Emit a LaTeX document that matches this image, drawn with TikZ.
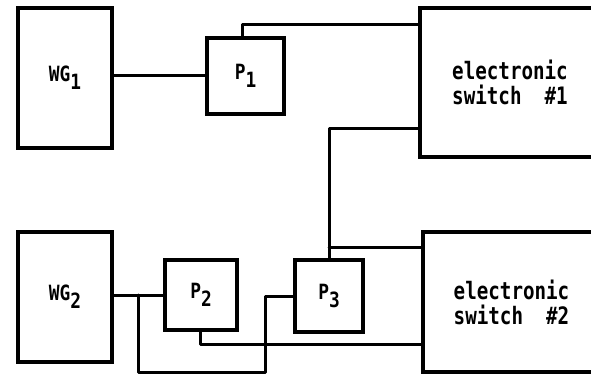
\documentclass[tikz,border=0pt]{standalone}
\usepackage{fontspec}
\newfontfamily\swfont{DejaVu Sans Mono}[FakeStretch=0.8]
\newfontfamily\tagfont{DejaVu Sans Mono}[FakeStretch=0.85]
\usetikzlibrary{positioning, calc}
\newcommand{\lowsub}[1]{\raisebox{-8pt}{#1}}

\begin{document}
\begin{tikzpicture}[
    x=1pt, y=-1pt,
    blk/.style={rectangle, draw, line width=3.5pt, outer sep=0pt, inner sep=0pt,
                align=center, font=\tagfont\bfseries\fontsize{21}{21}\selectfont},
    swblk/.style={blk, align=left, font=\swfont\bfseries\fontsize{24}{25}\selectfont},
    wire/.style={line width=3pt, line cap=round, line join=round}
]
    \useasboundingbox (0,0) rectangle (591,377);
    % blocks
    \node[blk, minimum width=94pt, minimum height=140pt] (wg1) at (65,78) {WG\lowsub{1}};
    \node[blk, minimum width=77pt, minimum height=76pt]  (p1)  at (245.5,76) {P\lowsub{1}};
    \node[swblk, minimum width=180pt, minimum height=149pt] (sw1) at (510,82.5) {electronic\\switch\ \ \#1};
    \node[blk, minimum width=94pt, minimum height=130pt] (wg2) at (65,297) {WG\lowsub{2}};
    \node[blk, minimum width=72pt, minimum height=70pt]  (p2)  at (201,295) {P\lowsub{2}};
    \node[blk, minimum width=68pt, minimum height=72pt]  (p3)  at (329,296) {P\lowsub{3}};
    \node[swblk, minimum width=177pt, minimum height=140pt] (sw2) at (511.5,302) {electronic\\switch\ \ \#2};
    % wiring
    \draw[wire] (wg1.east |- p1.west) -- (p1.west);
    \draw[wire] ([xshift=-3.5pt]p1.north) |- ([yshift=-17pt]sw1.north west);
    \draw[wire] ([yshift=29pt]sw1.south west) -| (p3.north);
    \coordinate (tap) at ([yshift=-15pt]sw2.north west);
    \draw[wire] (tap) -- (tap -| p3.north);
    \draw[wire] (wg2.east |- p2.west) -- (p2.west);
    \coordinate (fork) at ([xshift=26pt]wg2.east |- p2.west);
    \draw[wire] (fork) -- ++(0,77) -| ([xshift=-30pt]p3.west) -- (p3.west);
    \draw[wire] ([xshift=-1pt]p2.south) |- ([yshift=28pt]sw2.south west);
\end{tikzpicture}
\end{document}
